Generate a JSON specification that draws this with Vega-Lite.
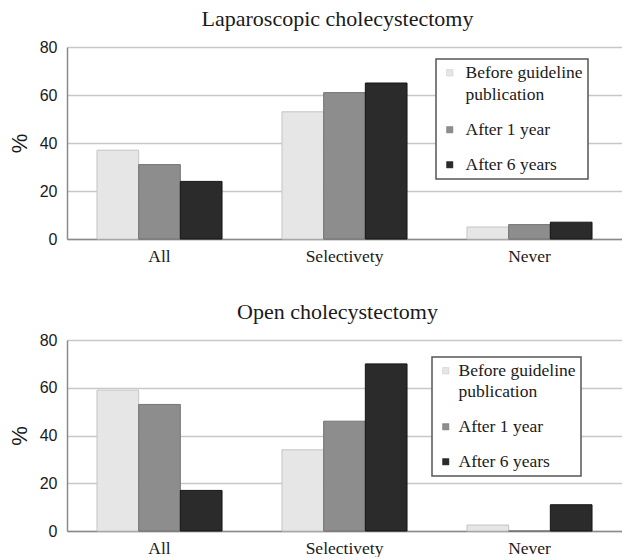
{
  "$schema": "https://vega.github.io/schema/vega-lite/v6.json",
  "background": "white",
  "padding": {"left": 8, "top": 8, "right": 0, "bottom": 0},
  "spacing": 36,
  "datasets": {
    "d": [
      {"panel": "Lap", "category": "All", "period": "Before guideline publication", "value": 37},
      {"panel": "Lap", "category": "All", "period": "After 1 year", "value": 31},
      {"panel": "Lap", "category": "All", "period": "After 6 years", "value": 24},
      {"panel": "Lap", "category": "Selectivety", "period": "Before guideline publication", "value": 53},
      {"panel": "Lap", "category": "Selectivety", "period": "After 1 year", "value": 61},
      {"panel": "Lap", "category": "Selectivety", "period": "After 6 years", "value": 65},
      {"panel": "Lap", "category": "Never", "period": "Before guideline publication", "value": 5},
      {"panel": "Lap", "category": "Never", "period": "After 1 year", "value": 6},
      {"panel": "Lap", "category": "Never", "period": "After 6 years", "value": 7},
      {"panel": "Open", "category": "All", "period": "Before guideline publication", "value": 59},
      {"panel": "Open", "category": "All", "period": "After 1 year", "value": 53},
      {"panel": "Open", "category": "All", "period": "After 6 years", "value": 17},
      {"panel": "Open", "category": "Selectivety", "period": "Before guideline publication", "value": 34},
      {"panel": "Open", "category": "Selectivety", "period": "After 1 year", "value": 46},
      {"panel": "Open", "category": "Selectivety", "period": "After 6 years", "value": 70},
      {"panel": "Open", "category": "Never", "period": "Before guideline publication", "value": 2.5},
      {"panel": "Open", "category": "Never", "period": "After 1 year", "value": 0},
      {"panel": "Open", "category": "Never", "period": "After 6 years", "value": 11}
    ]
  },
  "vconcat": [
    {
      "title": {"text": "Laparoscopic cholecystectomy"},
      "width": 555,
      "height": 192,
      "data": {"name": "d"},
      "transform": [{"filter": "datum.panel == 'Lap'"}],
      "mark": {"type": "bar", "strokeWidth": 1},
      "encoding": {
        "x": {"field": "category", "type": "nominal", "sort": ["All", "Selectivety", "Never"], "scale": {"paddingInner": 0.324, "paddingOuter": 0.162}, "axis": {"title": null}},
        "xOffset": {"field": "period", "type": "nominal", "sort": ["Before guideline publication", "After 1 year", "After 6 years"]},
        "y": {"field": "value", "type": "quantitative", "scale": {"domain": [0, 80]}, "axis": {"title": "%", "values": [0, 20, 40, 60, 80]}},
        "color": {"field": "period", "type": "nominal", "sort": ["Before guideline publication", "After 1 year", "After 6 years"],
          "scale": {"domain": ["Before guideline publication", "After 1 year", "After 6 years"], "range": ["#e6e6e6", "#8d8d8d", "#2b2b2b"]},
          "legend": {"orient": "none", "legendX": 369, "legendY": 12, "labelOffset": 7, "rowPadding": 16,
            "labelExpr": "datum.label == 'Before guideline publication' ? ['Before guideline', 'publication'] : datum.label",
            "encode": {"labels": {"update": {"lineHeight": {"value": 22}}}}}},
        "stroke": {"field": "period", "type": "nominal", "scale": {"domain": ["Before guideline publication", "After 1 year", "After 6 years"], "range": ["#c4c4c4", "#747474", "#151515"]}, "legend": null}
      }
    },
    {
      "title": {"text": "Open cholecystectomy"},
      "width": 555,
      "height": 191,
      "data": {"name": "d"},
      "transform": [{"filter": "datum.panel == 'Open'"}],
      "mark": {"type": "bar", "strokeWidth": 1},
      "encoding": {
        "x": {"field": "category", "type": "nominal", "sort": ["All", "Selectivety", "Never"], "scale": {"paddingInner": 0.324, "paddingOuter": 0.162}, "axis": {"title": null}},
        "xOffset": {"field": "period", "type": "nominal", "sort": ["Before guideline publication", "After 1 year", "After 6 years"]},
        "y": {"field": "value", "type": "quantitative", "scale": {"domain": [0, 80]}, "axis": {"title": "%", "values": [0, 20, 40, 60, 80]}},
        "color": {"field": "period", "type": "nominal", "sort": ["Before guideline publication", "After 1 year", "After 6 years"],
          "scale": {"domain": ["Before guideline publication", "After 1 year", "After 6 years"], "range": ["#e6e6e6", "#8d8d8d", "#2b2b2b"]},
          "legend": {"orient": "none", "legendX": 365, "legendY": 17, "labelOffset": 4, "padding": 5, "rowPadding": 16,
            "labelExpr": "datum.label == 'Before guideline publication' ? ['Before guideline', 'publication'] : datum.label",
            "encode": {"labels": {"update": {"lineHeight": {"value": 21}}}}}},
        "stroke": {"field": "period", "type": "nominal", "scale": {"domain": ["Before guideline publication", "After 1 year", "After 6 years"], "range": ["#c4c4c4", "#747474", "#151515"]}, "legend": null}
      }
    }
  ],
  "resolve": {"scale": {"color": "independent", "stroke": "independent", "x": "independent", "y": "independent", "xOffset": "independent"}, "legend": {"color": "independent"}},
  "config": {
    "view": {"stroke": null},
    "title": {"font": "Liberation Serif", "fontSize": 22, "fontWeight": "normal", "color": "#1a1a1a", "baseline": "alphabetic", "offset": 8, "anchor": "middle", "dx": -7},
    "axisX": {"labelFont": "Liberation Serif", "labelFontSize": 17.5, "labelColor": "#1a1a1a", "labelAngle": 0, "labelPadding": 8, "ticks": false, "domainColor": "#8a8a8a", "domainWidth": 1.5, "grid": false},
    "axisY": {"labelFont": "Liberation Sans", "labelFontSize": 16, "labelColor": "#1a1a1a", "labelPadding": 10, "ticks": false, "domainColor": "#8a8a8a", "domainWidth": 1.5, "gridColor": "#c8c8c8", "gridWidth": 1.5, "titleFont": "Liberation Sans", "titleFontSize": 22, "titleFontWeight": "normal", "titleColor": "#1a1a1a", "titlePadding": 8},
    "legend": {"title": null, "strokeColor": "#555555", "strokeWidth": 1.5, "fillColor": "white", "padding": 5, "labelFont": "Liberation Serif", "labelFontSize": 17.5, "labelColor": "#1a1a1a", "labelLimit": 300, "symbolType": "square", "symbolSize": 40, "symbolStrokeWidth": 0.5}
  }
}
